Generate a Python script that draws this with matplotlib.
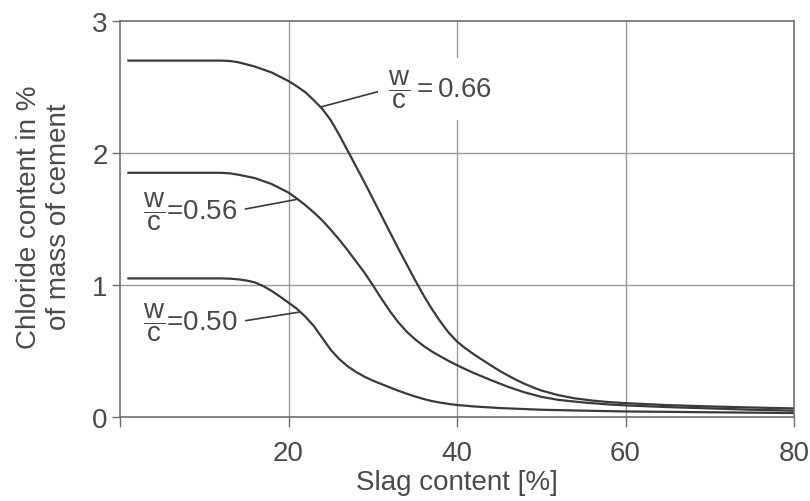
import numpy as np
import matplotlib
matplotlib.use("Agg")
import matplotlib.pyplot as plt

plt.rcParams['font.family'] = ['Liberation Sans', 'DejaVu Sans']
plt.rcParams['mathtext.fontset'] = 'custom'
plt.rcParams['mathtext.rm'] = 'Liberation Sans'
plt.rcParams['mathtext.it'] = 'Liberation Sans:italic'
plt.rcParams['mathtext.bf'] = 'Liberation Sans:bold'

# ---- data ----
slag_066 = [1, 12, 13, 14, 16, 18, 20, 21, 22, 23, 24, 25, 26, 27, 28, 29, 30, 31, 32, 33, 34, 35,
            36, 37, 38, 39, 40, 41, 42, 43, 44, 45, 46, 47, 48, 49, 50, 52, 54, 56, 58, 60, 65, 70, 75, 80]
cl_066 = [2.70, 2.70, 2.697, 2.688, 2.655, 2.61, 2.545, 2.505, 2.46, 2.40, 2.335, 2.25, 2.14, 2.02, 1.90, 1.78,
          1.655, 1.53, 1.405, 1.28, 1.16, 1.04, 0.925, 0.82, 0.725, 0.64, 0.572, 0.52, 0.475, 0.433, 0.392,
          0.352, 0.316, 0.282, 0.252, 0.225, 0.201, 0.166, 0.141, 0.125, 0.113, 0.105, 0.09, 0.08, 0.072, 0.065]

slag_056 = [1, 12, 13, 14, 16, 18, 20, 21, 22, 23, 24, 25, 26, 27, 28, 29, 30, 31, 32, 33, 34, 35,
            36, 37, 38, 39, 40, 41, 42, 44, 46, 48, 50, 52, 55, 58, 60, 65, 70, 75, 80]
cl_056 = [1.85, 1.85, 1.846, 1.836, 1.81, 1.765, 1.70, 1.655, 1.605, 1.55, 1.49, 1.42, 1.345, 1.265, 1.18,
          1.095, 1.00, 0.90, 0.805, 0.72, 0.648, 0.59, 0.54, 0.497, 0.46, 0.425, 0.393, 0.362, 0.333,
          0.28, 0.23, 0.187, 0.153, 0.13, 0.11, 0.095, 0.088, 0.075, 0.065, 0.055, 0.048]

slag_050 = [1, 12, 13, 14, 15, 16, 17, 18, 19, 20, 21, 22, 23, 24, 25, 26, 27, 28, 29, 30, 31, 32,
            33, 34, 35, 36, 37, 38, 39, 40, 42, 45, 50, 55, 60, 70, 80]
cl_050 = [1.05, 1.05, 1.048, 1.043, 1.034, 1.02, 0.992, 0.955, 0.912, 0.866, 0.82, 0.76, 0.69, 0.60, 0.51,
          0.44, 0.385, 0.342, 0.306, 0.276, 0.25, 0.225, 0.20, 0.177, 0.156, 0.137, 0.121, 0.109,
          0.099, 0.091, 0.08, 0.068, 0.055, 0.048, 0.042, 0.036, 0.03]

labels = ["0.66", "0.56", "0.50"]
x_ticks = [0, 20, 40, 60, 80]
x_ticklabels = ["", "20", "40", "60", "80"]
y_ticks = [0, 1, 2, 3]

# ---- figure ----
fig = plt.figure(figsize=(8.1, 5.02), dpi=100)
ax = fig.add_axes([120/810, 1-418/502, 674/810, 396/502])

text_col = '#4a4a4a'
line_col = '#3a3a3a'
grid_col = '#9a9a9a'

for xs, ys in [(slag_066, cl_066), (slag_056, cl_056), (slag_050, cl_050)]:
    ax.plot(xs, ys, color=line_col, lw=1.6, solid_joinstyle='round', zorder=2)

ax.set_xlim(0, 80)
ax.set_ylim(0, 3)
ax.set_xticks(x_ticks)
ax.set_xticklabels(x_ticklabels)
ax.set_yticks(y_ticks)

for g in [20, 40, 60]:
    ax.axvline(g, color=grid_col, lw=1.0, zorder=1)
for g in [1, 2]:
    ax.axhline(g, color=grid_col, lw=1.0, zorder=1)

for s in ax.spines.values():
    s.set_color('#6e6e6e')
    s.set_linewidth(1.2)

ax.tick_params(axis='x', direction='out', length=7.5, width=1.0, color='#6e6e6e',
               labelsize=20, labelcolor=text_col, pad=9)
ax.tick_params(axis='y', direction='out', length=6, width=1.0, color='#6e6e6e',
               labelsize=20, labelcolor=text_col, pad=3)

ax.set_xlabel('Slag content [%]', fontsize=20, color=text_col, labelpad=2)
fig.text(0.054, 1-217/502, 'Chloride content in %\nof mass of cement', rotation=90,
         ha='center', va='center', multialignment='center', fontsize=20, color=text_col)

bbox = dict(boxstyle='square,pad=0.35', fc='white', ec='none')
# labels with leader lines
ax.annotate(r'$\dfrac{\mathrm{w}}{\mathrm{c}}=$' + labels[0], xy=(23.8, float(np.interp(23.8, slag_066, cl_066))),
            xytext=(31.8, 2.485), ha='left', va='center', fontsize=20, color=text_col,
            bbox=bbox, zorder=3,
            arrowprops=dict(arrowstyle='-', color=line_col, lw=1.2, shrinkA=0, shrinkB=0, relpos=(0, 0.5)))
ax.annotate(r'$\dfrac{\mathrm{w}}{\mathrm{c}}$=' + labels[1], xy=(21.1, float(np.interp(21.1, slag_056, cl_056))),
            xytext=(2.7, 1.564), ha='left', va='center', fontsize=20, color=text_col,
            bbox=dict(boxstyle='square,pad=0.15', fc='none', ec='none'), zorder=3,
            arrowprops=dict(arrowstyle='-', color=line_col, lw=1.2, shrinkA=3, shrinkB=0, relpos=(1, 0.5)))
ax.annotate(r'$\dfrac{\mathrm{w}}{\mathrm{c}}$=' + labels[2], xy=(21.4, float(np.interp(21.4, slag_050, cl_050))),
            xytext=(2.7, 0.72), ha='left', va='center', fontsize=20, color=text_col,
            bbox=dict(boxstyle='square,pad=0.15', fc='none', ec='none'), zorder=3,
            arrowprops=dict(arrowstyle='-', color=line_col, lw=1.2, shrinkA=3, shrinkB=0, relpos=(1, 0.5)))

fig.savefig('out.png', dpi=100)
